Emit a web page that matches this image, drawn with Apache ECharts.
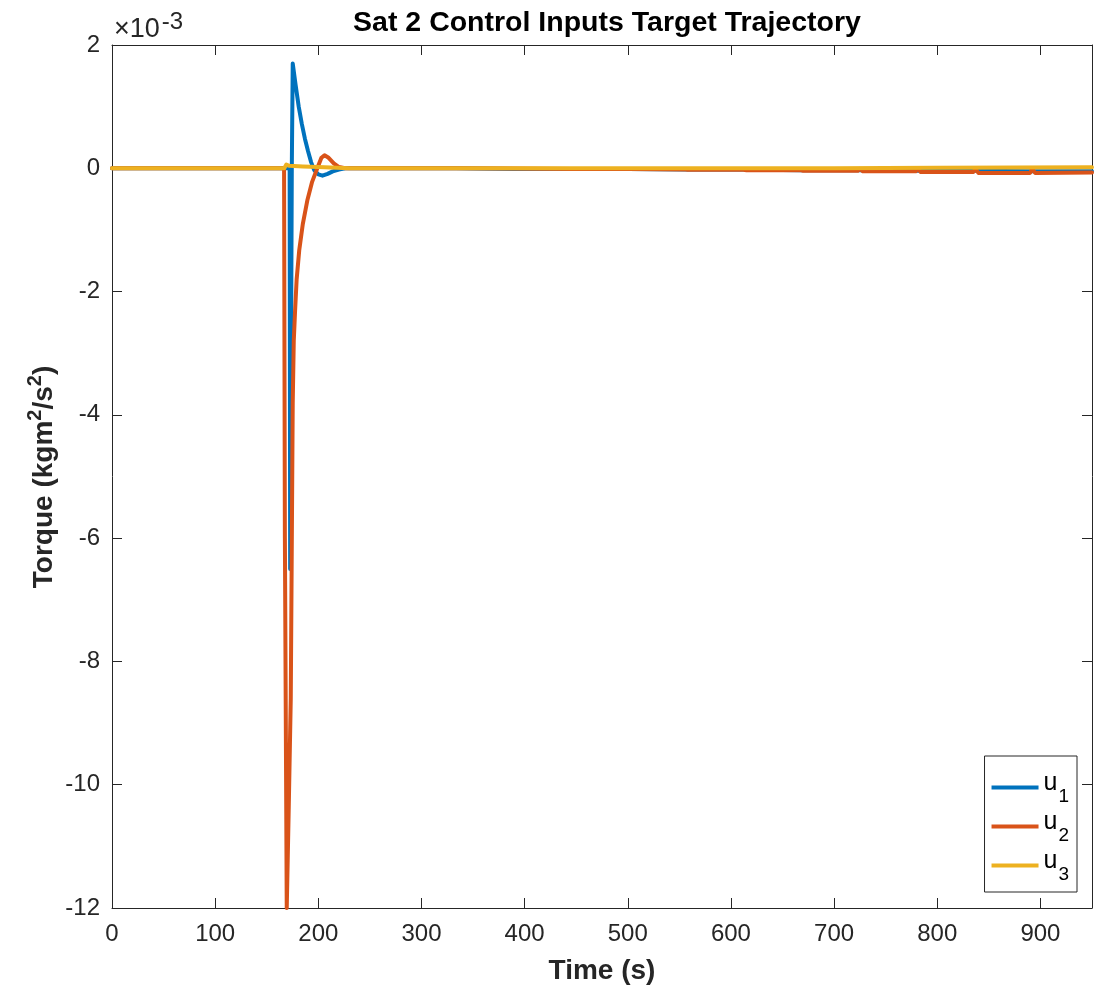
<!DOCTYPE html>
<html>
<head>
<meta charset="utf-8">
<script src="https://cdn.jsdelivr.net/npm/echarts@6/dist/echarts.min.js"></script>
<style>html,body{margin:0;padding:0;background:#fff}#c{width:1098px;height:992px}</style>
</head>
<body>
<div id="c"></div>
<script>
// Time (s), torque in units of 1e-3 kgm^2/s^2
const seriesNames = ['u1', 'u2', 'u3'];
const xTicks = [0, 100, 200, 300, 400, 500, 600, 700, 800, 900];
const yTicks = [2, 0, -2, -4, -6, -8, -10, -12];

const u1 = [[0,0],[167,0],[172.2,0],[172.7,-6.5],[173.5,-3.2],[174.3,0],[175.2,1.7],[178,1.35],[181,1.0],[184,0.72],[187,0.48],[190,0.28],[193,0.1],[196,-0.03],[200,-0.1],[204,-0.12],[209,-0.09],[214,-0.05],[220,-0.02],[226,0],[334,0],[390,-0.01],[446,-0.01],[501,-0.01],[557,-0.02],[613,-0.02],[668,-0.03],[724,-0.03],[780,-0.04],[836,-0.04],[891,-0.05],[950,-0.05]];

const u2 = [[0,0],[166.8,0],[167.6,-6],[169.4,-12],[171.3,-10.4],[173.3,-8.6],[175.2,-3.8],[176.2,-2.8],[177.5,-2.3],[179,-1.8],[181.5,-1.33],[185,-0.9],[189.5,-0.51],[194,-0.22],[199,0],[203,0.17],[206,0.21],[210,0.17],[215,0.08],[220,0.02],[226,0],[334,0],[390,-0.005],[446,-0.01],[501,-0.01],[502,-0.02],[556,-0.02],[557,-0.01],[558,-0.025],[612,-0.025],[613,-0.01],[615,-0.03],[667,-0.03],[668,-0.01],[670,-0.04],[723,-0.04],[725,-0.01],[728,-0.05],[779,-0.05],[781,-0.01],[784,-0.06],[835,-0.06],[837,-0.01],[840,-0.075],[890,-0.075],[892,-0.01],[895,-0.075],[950,-0.07]];

const u3 = [[0,0],[167,0],[169,0.06],[172,0.04],[185,0.03],[200,0.02],[230,0],[700,0],[800,0.01],[950,0.015]];

const colors = ['#0072BD', '#D95319', '#EDB120'];
const axisColor = '#262626';
const font = 'Liberation Sans, Arial, Helvetica, sans-serif';

const chart = echarts.init(document.getElementById('c'));

const baseX = {
  type: 'value', min: 0, max: 950, interval: 100,
  axisLine: {show: true, onZero: false, lineStyle: {color: axisColor, width: 1}},
  axisTick: {show: true, inside: true, length: 10, lineStyle: {color: axisColor}},
  splitLine: {show: false}
};
const baseY = {
  type: 'value', min: -12, max: 2, interval: 2,
  axisLine: {show: true, onZero: false, lineStyle: {color: axisColor, width: 1}},
  axisTick: {show: true, inside: true, length: 10, lineStyle: {color: axisColor}},
  splitLine: {show: false}
};

const data = [u1, u2, u3];

chart.setOption({
  animation: false,
  backgroundColor: '#fff',
  title: {
    text: 'Sat 2 Control Inputs Target Trajectory',
    left: 602, top: 4, textAlign: 'center',
    textStyle: {fontFamily: font, fontSize: 28.5, fontWeight: 'bold', color: '#000'}
  },
  grid: {left: 112, right: 6, top: 45, bottom: 84, containLabel: false},
  xAxis: [
    Object.assign({}, baseX, {
      position: 'bottom',
      name: 'Time (s)', nameLocation: 'middle', nameGap: 49,
      nameTextStyle: {fontFamily: font, fontSize: 28, fontWeight: 'bold', color: axisColor},
      axisLabel: {show: true, fontFamily: font, fontSize: 24, color: axisColor, margin: 14, showMaxLabel: false,
        formatter: v => xTicks.includes(v) ? String(v) : ''}
    }),
    Object.assign({}, baseX, {position: 'top', axisLabel: {show: false}})
  ],
  yAxis: [
    Object.assign({}, baseY, {
      position: 'left',
      axisLabel: {show: true, fontFamily: font, fontSize: 24, color: axisColor, margin: 12,
        formatter: v => yTicks.includes(v) ? String(v) : ''}
    }),
    Object.assign({}, baseY, {position: 'right', axisLabel: {show: false}})
  ],
  legend: {
    orient: 'vertical',
    right: 21, bottom: 100,
    itemWidth: 47, itemHeight: 4, itemGap: 4,
    icon: 'rect',
    padding: [15, 8, 8, 7],
    borderColor: axisColor, borderWidth: 1, backgroundColor: '#fff',
    data: seriesNames,
    formatter: n => '{u|u}{s|' + n.slice(1) + '}',
    textStyle: {
      fontFamily: font, color: '#000',
      rich: {
        u: {fontFamily: font, fontSize: 25, color: '#000', padding: [0, 0, 8, 0]},
        s: {fontFamily: font, fontSize: 19, color: '#000', padding: [18, 0, 0, 1]}
      }
    }
  },
  graphic: [
    {
      type: 'text', left: 114, top: 10,
      style: {
        text: '{a|×10}{b|-3}',
        rich: {
          a: {fontFamily: font, fontSize: 27, fill: axisColor, padding: [10, 0, 0, 0]},
          b: {fontFamily: font, fontSize: 24, fill: axisColor, padding: [0, 0, 6, 2]}
        }
      }
    },
    {
      type: 'text', x: 40, y: 477, rotation: Math.PI / 2,
      style: {
        text: '{a|Torque (kgm}{b|2}{a|/s}{b|2}{a|)}',
        align: 'center', verticalAlign: 'middle',
        rich: {
          a: {fontFamily: font, fontSize: 28, fontWeight: 'bold', fill: axisColor, padding: [9, 0, 0, 0]},
          b: {fontFamily: font, fontSize: 20, fontWeight: 'bold', fill: axisColor, padding: [0, 0, 9, 0]}
        }
      }
    }
  ],
  series: data.map((d, i) => ({
    name: seriesNames[i], type: 'line', data: d,
    xAxisIndex: 0, yAxisIndex: 0,
    showSymbol: false, symbol: 'none', clip: true,
    color: colors[i],
    lineStyle: {width: 4, color: colors[i], join: 'round', cap: 'round'},
    z: 2 + i
  }))
});
</script>
</body>
</html>
